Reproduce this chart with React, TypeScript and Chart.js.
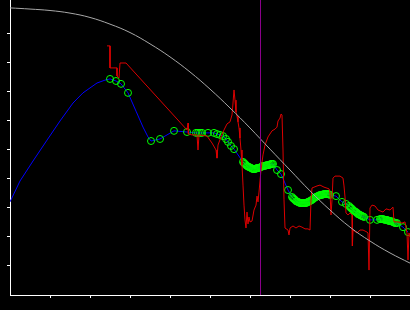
import React, { useEffect, useRef } from "react";
import { Chart, registerables } from "chart.js";

Chart.register(...registerables);

// Smooth reference curve (gray)
const refX = [0, 5, 10, 15, 20, 25, 30, 35, 40, 45, 50, 55, 60, 65, 70, 75, 80, 85, 90, 95, 100];
const refY = [99.0, 98.6, 98.1, 97.2, 95.7, 93.4, 90.5, 86.6, 82.1, 76.9, 71.0, 64.5, 57.6, 50.3, 43.1, 35.9, 29.3, 23.4, 18.6, 14.5, 11.0];

// Fitted line (blue) – leading part before samples
const fitLeadX = [0, 2.5, 5.75, 9.25, 12.5, 15.75, 18.25, 21.75, 23.75];
const fitLeadY = [32.1, 39.3, 46.2, 53.4, 60.0, 66.2, 69.7, 73.1, 74.1];

// Sample points (green circles), in segments
const headX = [25, 26.5, 27.75, 29.5];
const headY = [74.5, 73.8, 72.8, 69.7];
// bends of the blue line between head and the next samples
const bendX = [31.5, 33.25, 34.5];
const bendY = [63.4, 57.9, 54.5];
const midX = [35.25, 37.5, 41, 44.25, 46.5, 47, 47.5, 48, 49.5, 51, 51.75, 52.5, 53.25, 54, 54.5, 55.25, 56];
const midY = [53.1, 53.8, 56.6, 56.2, 55.9, 55.9, 55.9, 55.9, 55.9, 55.9, 55.5, 55.2, 54.8, 53.8, 52.8, 51.4, 50.3];
const clusterBX = [58.25, 58.5, 58.75, 59, 59.25, 59.5, 59.75, 60, 60.25, 60.5, 60.75, 61, 61.25, 61.5, 61.75, 62, 62.25, 62.5, 62.75, 63,
  63.25, 63.5, 63.75, 64, 64.25, 64.5, 64.75, 65, 65.25, 65.5, 65.75];
const clusterBY = [45.9, 45.5, 45.2, 44.8, 44.5, 44.3, 44.1, 44.0, 43.8, 43.6, 43.4, 43.4, 43.4, 43.6, 43.8, 43.8, 43.8, 44.0, 44.1, 44.3,
  44.5, 44.5, 44.5, 44.7, 44.8, 44.8, 44.8, 45.0, 45.2, 45.2, 45.2];
const link1X = [66.75, 67.75, 69.5];
const link1Y = [43.1, 41.7, 36.2];
const clusterCX = [70.5, 70.75, 71, 71.25, 71.5, 71.75, 72, 72.25, 72.5, 72.75, 73, 73.25, 73.5, 73.75, 74, 74.25, 74.5, 74.75, 75, 75.25,
  75.5, 75.75, 76, 76.25, 76.5, 76.75, 77, 77.25, 77.5, 77.75, 78, 78.25, 78.5, 78.75, 79, 79.25, 79.5, 79.75, 80];
const clusterCY = [33.8, 33.4, 33.1, 32.8, 32.4, 32.2, 32.1, 31.9, 31.7, 31.7, 31.7, 31.7, 31.7, 31.7, 31.7, 31.9, 32.1, 32.2, 32.4, 32.6,
  32.8, 33.1, 33.4, 33.6, 33.8, 34.0, 34.1, 34.3, 34.5, 34.5, 34.5, 34.7, 34.8, 34.8, 34.8, 34.8, 34.8, 34.7, 34.5];
const link2X = [81.5, 83, 84];
const link2Y = [34.1, 32.1, 31.4];
const clusterEX = [84.75, 85, 85.25, 85.5, 85.75, 86, 86.25, 86.5, 86.75, 87, 87.25, 87.5, 87.75, 88, 88.25, 88.5];
const clusterEY = [30.7, 30.3, 30.0, 29.7, 29.3, 29.0, 28.8, 28.6, 28.3, 27.9, 27.8, 27.6, 27.4, 27.2, 27.1, 26.9];
const link3X = [90, 91.75];
const link3Y = [25.9, 25.9];
const clusterFX = [92.5, 92.75, 93, 93.25, 93.5, 93.75, 94, 94.25, 94.5, 94.75, 95, 95.25, 95.5, 95.75, 96, 96.25, 96.5, 96.75];
const clusterFY = [26.2, 26.2, 26.2, 26.2, 26.0, 25.9, 25.9, 25.9, 25.7, 25.5, 25.5, 25.5, 25.3, 25.2, 25.0, 24.8, 24.8, 24.8];
const tailX = [98.25, 99.5];
const tailY = [23.4, 21.7];

// Measured signal (red)
const measX = [24.25, 25, 25, 26.75, 26.75, 27.25, 27.5, 29, 44.25, 44.5, 44.6, 45.5, 46.75, 47, 47.25, 49.25, 50.5, 51.5, 51.75, 52,
  52.75, 53.5, 54.25, 55, 55.5, 55.75, 56, 56.25, 56.5, 56.75, 57, 57.25, 57.5, 57.75, 58, 58.25, 58.5, 58.75, 59, 59.25,
  59.5, 59.75, 60, 60.5, 61, 61.5, 61.75, 62, 62.25, 62.75, 63.25, 63.75, 64.5, 65.5, 66.25, 66.75, 67, 67.5, 67.75, 68,
  68.25, 68.5, 68.75, 69.5, 69.75, 70, 70.75, 71.5, 72.25, 73, 73.75, 74.5, 75, 75.25, 75.5, 76.75, 77.5, 78.5, 79.75, 80,
  80.25, 80.5, 80.75, 81.25, 82.5, 83.25, 83.5, 83.75, 84, 84.5, 85, 85.5, 85.6, 85.75, 86.75, 87.5, 88.25, 89.25, 89.5, 89.75,
  90, 90.5, 91.25, 92, 93.25, 94, 95, 95.75, 96, 97, 98, 98.75, 99.25, 99.5, 99.75, 100];
const measY = [85.9, 85.9, 78.3, 78.3, 75.5, 74.8, 80.0, 80.0, 56.9, 59.3, 55.5, 55.2, 55.2, 50.0, 55.2, 54.8, 52.4, 50.0, 47.2, 51.7,
  54.5, 56.9, 59.0, 59.7, 62.1, 66.2, 70.7, 67.2, 63.1, 61.7, 59.7, 57.6, 54.1, 50.0, 44.8, 37.9, 31.0, 25.9, 23.1, 28.6,
  24.5, 26.9, 25.2, 25.5, 29.3, 31.0, 34.1, 32.1, 35.5, 43.1, 48.3, 51.7, 54.5, 56.6, 57.2, 57.9, 60.0, 61.0, 62.4, 62.1,
  50.0, 32.8, 23.1, 22.4, 20.7, 23.1, 23.8, 23.1, 23.8, 23.4, 22.8, 22.8, 22.4, 32.8, 36.9, 37.6, 37.9, 37.2, 36.6, 35.5,
  27.6, 32.8, 40.3, 41.0, 41.0, 40.3, 37.6, 33.8, 28.3, 27.6, 28.3, 27.6, 16.9, 22.4, 21.4, 22.4, 22.4, 21.7, 21.4, 8.6,
  30.0, 31.0, 30.7, 29.3, 28.6, 29.7, 29.3, 30.3, 25.2, 25.2, 24.8, 25.2, 21.4, 12.1, 21.4, 20.0];

// Marker (purple vertical line)
const markerX = 62.625;

const Y_MAX = 101.72;

export default function App() {
  const ref = useRef<HTMLCanvasElement | null>(null);

  useEffect(() => {
    document.body.style.margin = "0";
    document.body.style.background = "#000";
    const pts = (xs: number[], ys: number[]) => xs.map((x, i) => ({ x, y: ys[i] }));

    const restX = [...midX, ...clusterBX, ...link1X, ...clusterCX, ...link2X, ...clusterEX, ...link3X, ...clusterFX, ...tailX];
    const restY = [...midY, ...clusterBY, ...link1Y, ...clusterCY, ...link2Y, ...clusterEY, ...link3Y, ...clusterFY, ...tailY];
    const samples = pts([...headX, ...restX], [...headY, ...restY]);
    const blue = pts(
      [...fitLeadX, ...headX, ...bendX, ...restX],
      [...fitLeadY, ...headY, ...bendY, ...restY]
    );

    const hideEdge = (ctx: any) => {
      const v = ctx.tick ? ctx.tick.value : null;
      return v === 0 || v === 100 ? "rgba(0,0,0,0)" : "#ffffff";
    };

    const chart = new Chart(ref.current as HTMLCanvasElement, {
      type: "scatter",
      data: {
        datasets: [
          {
            data: [{ x: markerX, y: 0 }, { x: markerX, y: Y_MAX }],
            showLine: true,
            borderColor: "#8a008a",
            borderWidth: 1,
            pointRadius: 0,
            order: 0,
          },
          {
            data: pts(refX, refY),
            showLine: true,
            borderColor: "#a8a8a8",
            borderWidth: 1,
            pointRadius: 0,
            tension: 0.4,
            order: 1,
          },
          {
            data: pts(measX, measY),
            showLine: true,
            borderColor: "#dd0000",
            borderWidth: 1,
            pointRadius: 0,
            order: 2,
          },
          {
            data: samples,
            showLine: false,
            pointRadius: 3.5,
            pointBorderWidth: 1,
            pointBorderColor: "#00ff00",
            pointBackgroundColor: "rgba(0,0,0,0)",
            order: 3,
          },
          {
            data: blue,
            showLine: true,
            borderColor: "#0000ff",
            borderWidth: 1,
            pointRadius: 0,
            order: 4,
          },
        ] as any,
      },
      options: {
        animation: false,
        responsive: false,
        maintainAspectRatio: false,
        devicePixelRatio: 1,
        events: [],
        layout: { padding: { left: 7, top: 0, right: 0, bottom: 12 }, autoPadding: false } as any,
        plugins: { legend: { display: false }, tooltip: { enabled: false } },
        scales: {
          x: {
            type: "linear",
            min: 0,
            max: 100,
            ticks: { display: false, stepSize: 10, includeBounds: false } as any,
            grid: { drawOnChartArea: false, drawTicks: true, tickLength: 3, color: hideEdge, lineWidth: 1 },
            border: { display: true, color: "#ffffff", width: 1 },
          },
          y: {
            type: "linear",
            min: 0,
            max: Y_MAX,
            ticks: { display: false, stepSize: 10, includeBounds: false } as any,
            grid: { drawOnChartArea: false, drawTicks: true, tickLength: 3, color: hideEdge, lineWidth: 1 },
            border: { display: true, color: "#ffffff", width: 1 },
          },
        },
      },
    });
    return () => chart.destroy();
  }, []);

  return (
    <canvas
      ref={ref}
      width={410}
      height={310}
      style={{ display: "block", background: "#000", width: 410, height: 310 }}
    />
  );
}
